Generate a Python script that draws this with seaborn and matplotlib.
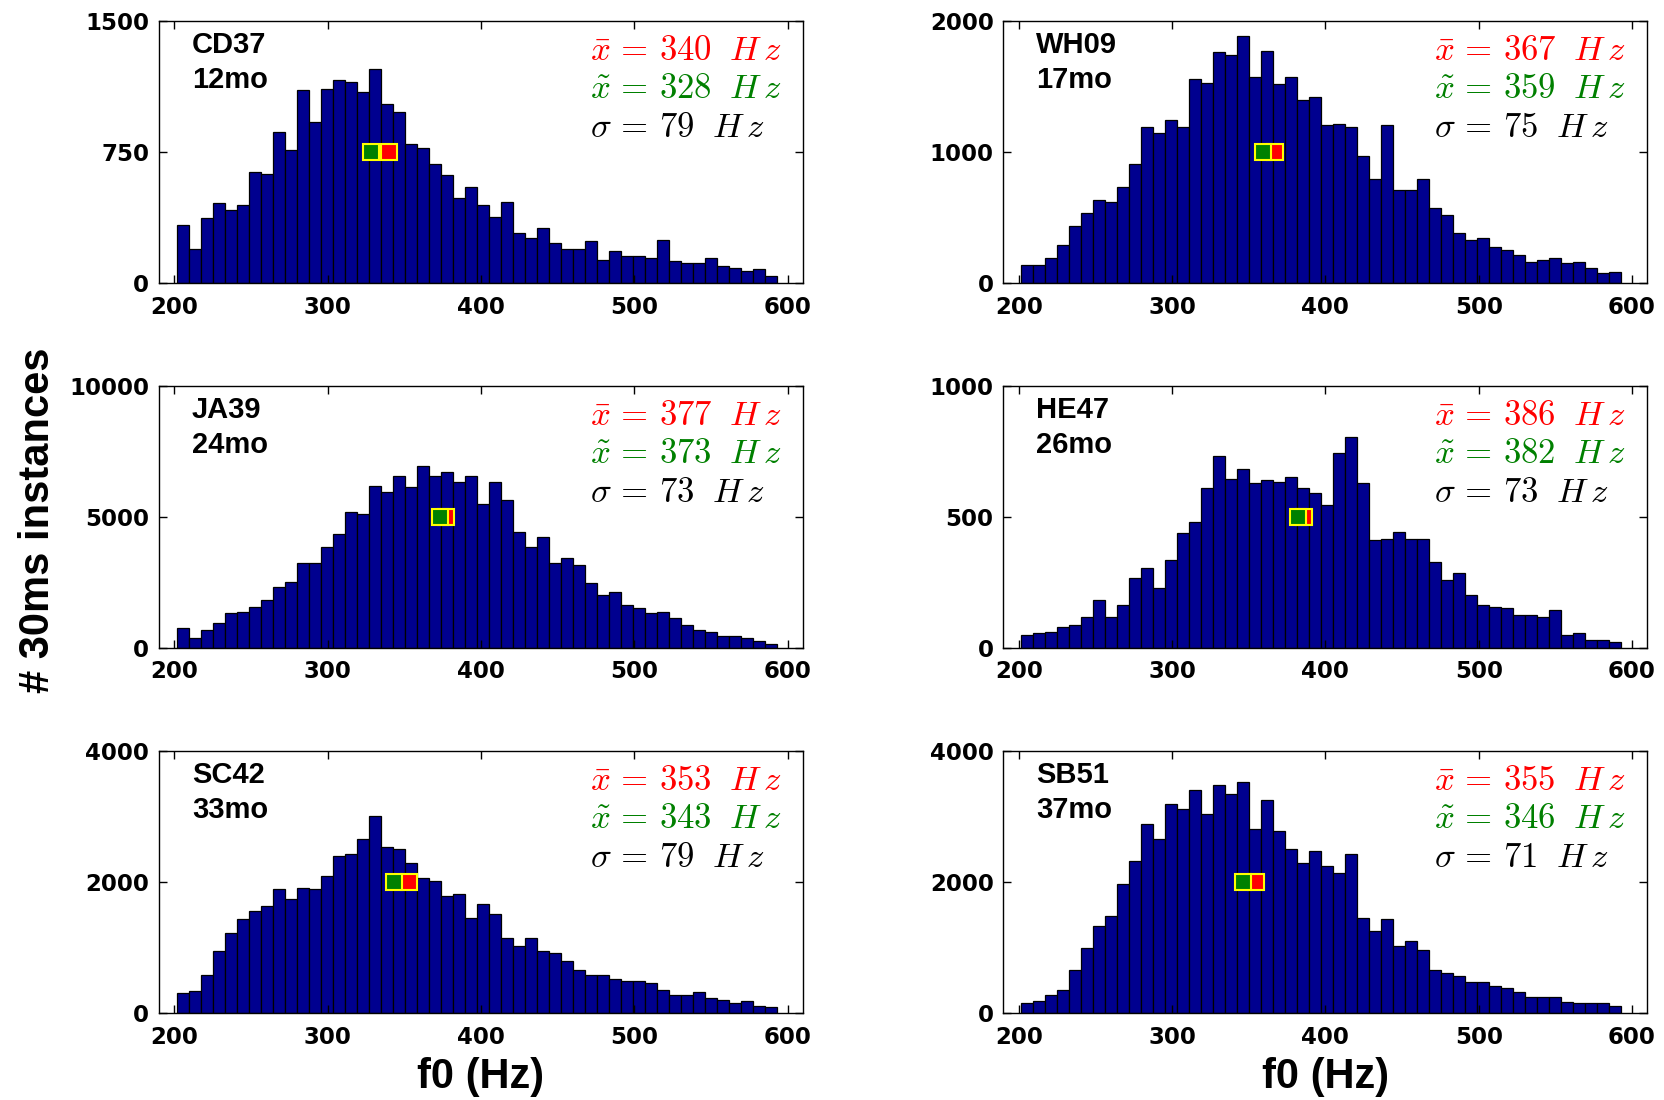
import numpy as np
import pandas as pd
import seaborn as sns
import matplotlib.pyplot as plt

# contagens por bin (50 bins entre ~201 e ~593 Hz)
cd37 = [333, 193, 371, 458, 419, 447, 636, 627, 866, 760,
        1104, 920, 1112, 1161, 1152, 1095, 1227, 1028, 981, 799,
        773, 684, 619, 489, 551, 447, 379, 466, 286, 256,
        313, 229, 193, 193, 239, 134, 182, 153, 153, 144,
        248, 125, 114, 114, 144, 95, 87, 68, 78, 38]
wh09 = [139, 139, 189, 290, 432, 533, 634, 621, 735, 912,
        1194, 1144, 1245, 1194, 1561, 1528, 1763, 1745, 1889, 1573,
        1775, 1523, 1573, 1396, 1422, 1205, 1217, 1192, 967, 798,
        1205, 710, 710, 798, 571, 520, 381, 331, 341, 278,
        255, 215, 164, 177, 189, 152, 164, 114, 76, 88]
ja39 = [747, 367, 684, 937, 1317, 1380, 1570, 1823, 2329, 2532,
        3228, 3228, 3861, 4367, 5190, 5127, 6203, 5950, 6583, 6140,
        6962, 6583, 6709, 6329, 6583, 5506, 6329, 5633, 4430, 3861,
        4241, 3228, 3418, 3165, 2468, 2025, 2152, 1633, 1506, 1317,
        1380, 1127, 873, 684, 620, 468, 468, 367, 278, 165]
he47 = [49, 56, 62, 81, 87, 119, 184, 119, 163, 266,
        304, 228, 335, 437, 481, 610, 734, 646, 685, 628,
        642, 635, 653, 610, 591, 544, 743, 805, 628, 411,
        416, 443, 416, 416, 329, 260, 285, 203, 165, 158,
        152, 125, 125, 119, 146, 49, 56, 30, 30, 24]
sc42 = [306, 332, 587, 944, 1229, 1433, 1566, 1642, 1892, 1739,
        1918, 1892, 2096, 2402, 2433, 2662, 3014, 2535, 2509, 2300,
        2071, 2020, 1790, 1816, 1459, 1663, 1510, 1153, 1025, 1153,
        949, 923, 796, 663, 587, 587, 515, 485, 485, 459,
        357, 281, 281, 321, 230, 204, 153, 179, 102, 92]
sb51 = [153, 179, 281, 357, 663, 1000, 1331, 1484, 1969, 2326,
        2887, 2657, 3193, 3121, 3402, 3040, 3478, 3351, 3529, 2810,
        3249, 2785, 2509, 2300, 2479, 2249, 2147, 2433, 1454, 1255,
        1433, 1020, 1097, 969, 663, 612, 561, 474, 474, 408,
        383, 321, 245, 245, 245, 168, 153, 153, 153, 102]

nomes = ['CD37', 'WH09', 'JA39', 'HE47', 'SC42', 'SB51']
idades = ['12mo', '17mo', '24mo', '26mo', '33mo', '37mo']
contagens = [cd37, wh09, ja39, he47, sc42, sb51]
medias = [340, 367, 377, 386, 353, 355]
medianas = [328, 359, 373, 382, 343, 346]
desvios = [79, 75, 73, 73, 79, 71]
ymax = [1500, 2000, 10000, 1000, 4000, 4000]

plt.rcParams['mathtext.fontset'] = 'cm'
plt.rcParams['font.family'] = ['Liberation Sans', 'DejaVu Sans']

fig = plt.figure(figsize=(16.64, 11.0), dpi=100)

bordas = np.linspace(201.4, 592.9, 51)
centros = (bordas[:-1] + bordas[1:]) / 2

lefts = [0.0956, 0.603]
bottoms = [0.7427, 0.411, 0.079]
largura, altura = 0.387, 0.238

for i in range(6):
    linha, coluna = i // 2, i % 2
    ax = fig.add_axes([lefts[coluna], bottoms[linha], largura, altura])
    df = pd.DataFrame({'f0': centros, 'n': contagens[i]})
    sns.histplot(data=df, x='f0', weights='n', bins=list(bordas), ax=ax,
                 color='#00008f', edgecolor='black', linewidth=0.9, alpha=1)
    ax.set_xlim(190, 610)
    ax.set_ylim(0, ymax[i])
    ax.set_xticks([200, 300, 400, 500, 600])
    ax.set_yticks([0, ymax[i] / 2, ymax[i]])
    ax.set_yticklabels([f'{int(v)}' for v in [0, ymax[i] / 2, ymax[i]]])
    ax.tick_params(direction='in', top=True, right=True, length=6, width=1,
                   labelsize=16.5)
    ax.tick_params(axis='y', pad=7)
    ax.tick_params(axis='x', pad=9)
    for lab in ax.get_xticklabels() + ax.get_yticklabels():
        lab.set_fontweight('bold')
        lab.set_fontfamily('DejaVu Sans')
    for sp in ax.spines.values():
        sp.set_linewidth(1)
    ax.set_ylabel('')
    ax.set_xlabel('')

    # média (vermelho) e mediana (verde)
    ax.plot([medias[i]], [ymax[i] / 2], marker='s', markersize=11,
            markerfacecolor='red', markeredgecolor='yellow', markeredgewidth=1.5,
            linestyle='none', zorder=5)
    ax.plot([medianas[i]], [ymax[i] / 2], marker='s', markersize=11,
            markerfacecolor='green', markeredgecolor='yellow', markeredgewidth=1.5,
            linestyle='none', zorder=6)

    ax.text(0.051, 0.962, nomes[i] + '\n' + idades[i], transform=ax.transAxes,
            ha='left', va='top', fontsize=21, fontweight='bold', linespacing=1.3)
    ax.text(0.669, 0.851, r'$\bar{x}\,=\,%d\ \;H\,z$' % medias[i], transform=ax.transAxes,
            ha='left', va='baseline', fontsize=25, color='red')
    ax.text(0.669, 0.707, r'$\tilde{x}\,=\,%d\ \;H\,z$' % medianas[i], transform=ax.transAxes,
            ha='left', va='baseline', fontsize=25, color='green')
    ax.text(0.669, 0.557, r'$\sigma\,=\,%d\ \;H\,z$' % desvios[i], transform=ax.transAxes,
            ha='left', va='baseline', fontsize=25, color='black')

    if linha == 2:
        ax.set_xlabel('f0 (Hz)', fontsize=30, fontweight='bold', labelpad=6)

fig.text(0.023, 0.527, '# 30ms instances', rotation=90, ha='center', va='center',
         fontsize=30, fontweight='bold')

plt.savefig('out.png', dpi=100)
